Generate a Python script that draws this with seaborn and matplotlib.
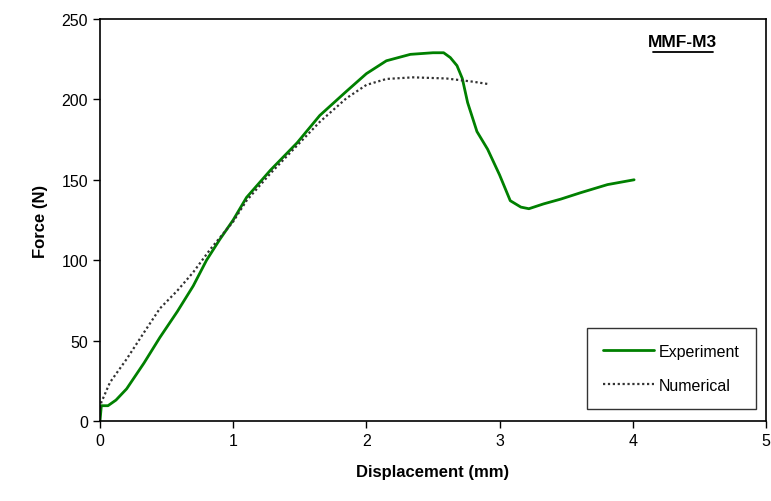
import matplotlib
matplotlib.use("Agg")
import matplotlib.pyplot as plt
import seaborn as sns
import pandas as pd

exp_x = [0.0, 0.01, 0.06, 0.12, 0.2, 0.33, 0.45, 0.58, 0.70, 0.80, 0.90, 1.0, 1.1, 1.28, 1.48, 1.65, 1.85, 2.0, 2.15, 2.33, 2.5, 2.58, 2.63, 2.68, 2.72, 2.76, 2.83, 2.91, 3.0, 3.08, 3.16, 3.22, 3.33, 3.46, 3.61, 3.81, 4.01]
exp_y = [0.0, 9.5, 9.5, 13, 20, 36, 52, 68, 84, 100, 113, 125, 139, 156, 173, 190, 205, 216, 224, 228, 229, 229, 226, 221, 213, 198, 180, 169, 153, 137, 133, 132, 135, 138, 142, 147, 150]
num_x = [0.0, 0.01, 0.075, 0.2, 0.33, 0.45, 0.58, 0.70, 0.83, 1.0, 1.1, 1.28, 1.43, 1.65, 1.85, 2.0, 2.15, 2.35, 2.6, 2.8, 2.91]
num_y = [8.0, 11.6, 24, 38.5, 55, 70, 81, 92.5, 107, 124, 137, 154, 167, 186, 200.7, 209, 212.7, 213.7, 213, 211, 209.6]

df = pd.concat([
    pd.DataFrame({"x": exp_x, "y": exp_y, "series": "Experiment"}),
    pd.DataFrame({"x": num_x, "y": num_y, "series": "Numerical"}),
])

sns.set_style("white")
plt.rcParams['font.family'] = ['Liberation Sans', 'DejaVu Sans']
plt.rcParams['text.color'] = 'black'
plt.rcParams['axes.labelcolor'] = 'black'
plt.rcParams['xtick.color'] = 'black'
plt.rcParams['ytick.color'] = 'black'

fig = plt.figure(figsize=(7.71, 5.02), dpi=100)
ax = fig.add_axes([0.1297, 0.1594, 0.8638, 0.8008])
sns.lineplot(data=df, x="x", y="y", hue="series", style="series",
             palette={"Experiment": "#008000", "Numerical": "#333333"},
             dashes={"Experiment": "", "Numerical": (1, 1.2)},
             sort=False, estimator=None, ax=ax, legend=True)
lines = ax.get_lines()
lines[0].set_linewidth(2.0)
lines[1].set_linewidth(1.6)

ax.set_xlim(0, 5)
ax.set_ylim(0, 250)
ax.set_xticks([0, 1, 2, 3, 4, 5])
ax.set_yticks([0, 50, 100, 150, 200, 250])
ax.tick_params(axis='both', direction='out', length=5, width=1, labelsize=11.5, left=True, bottom=True, colors='black')
for s in ax.spines.values():
    s.set_color('black')
    s.set_linewidth(1.2)
ax.set_xlabel("Displacement (mm)", fontsize=12, fontweight='bold', labelpad=12, color='black')
ax.set_ylabel("Force (N)", fontsize=12, fontweight='bold', labelpad=10, color='black')

leg = ax.legend(loc='lower right', bbox_to_anchor=(0.985, 0.03), fontsize=11.5, frameon=True,
                fancybox=False, edgecolor='black', borderpad=1.0, labelspacing=1.2,
                handlelength=3.2, handletextpad=0.3, borderaxespad=0)
leg.get_frame().set_linewidth(1.0)
for t in leg.get_texts():
    t.set_color('black')
for h in leg.get_lines():
    if h.get_label() == "Experiment":
        h.set_linewidth(2.0)
    else:
        h.set_linewidth(1.6)

ax.text(0.875, 0.945, "MMF-M3", transform=ax.transAxes, fontsize=12.5, fontweight='bold',
        ha='center', va='center', color='black')
ax.plot([0.83, 0.92], [0.918, 0.918], transform=ax.transAxes, color='black', lw=1.3)

fig.savefig("out.png", dpi=100)
